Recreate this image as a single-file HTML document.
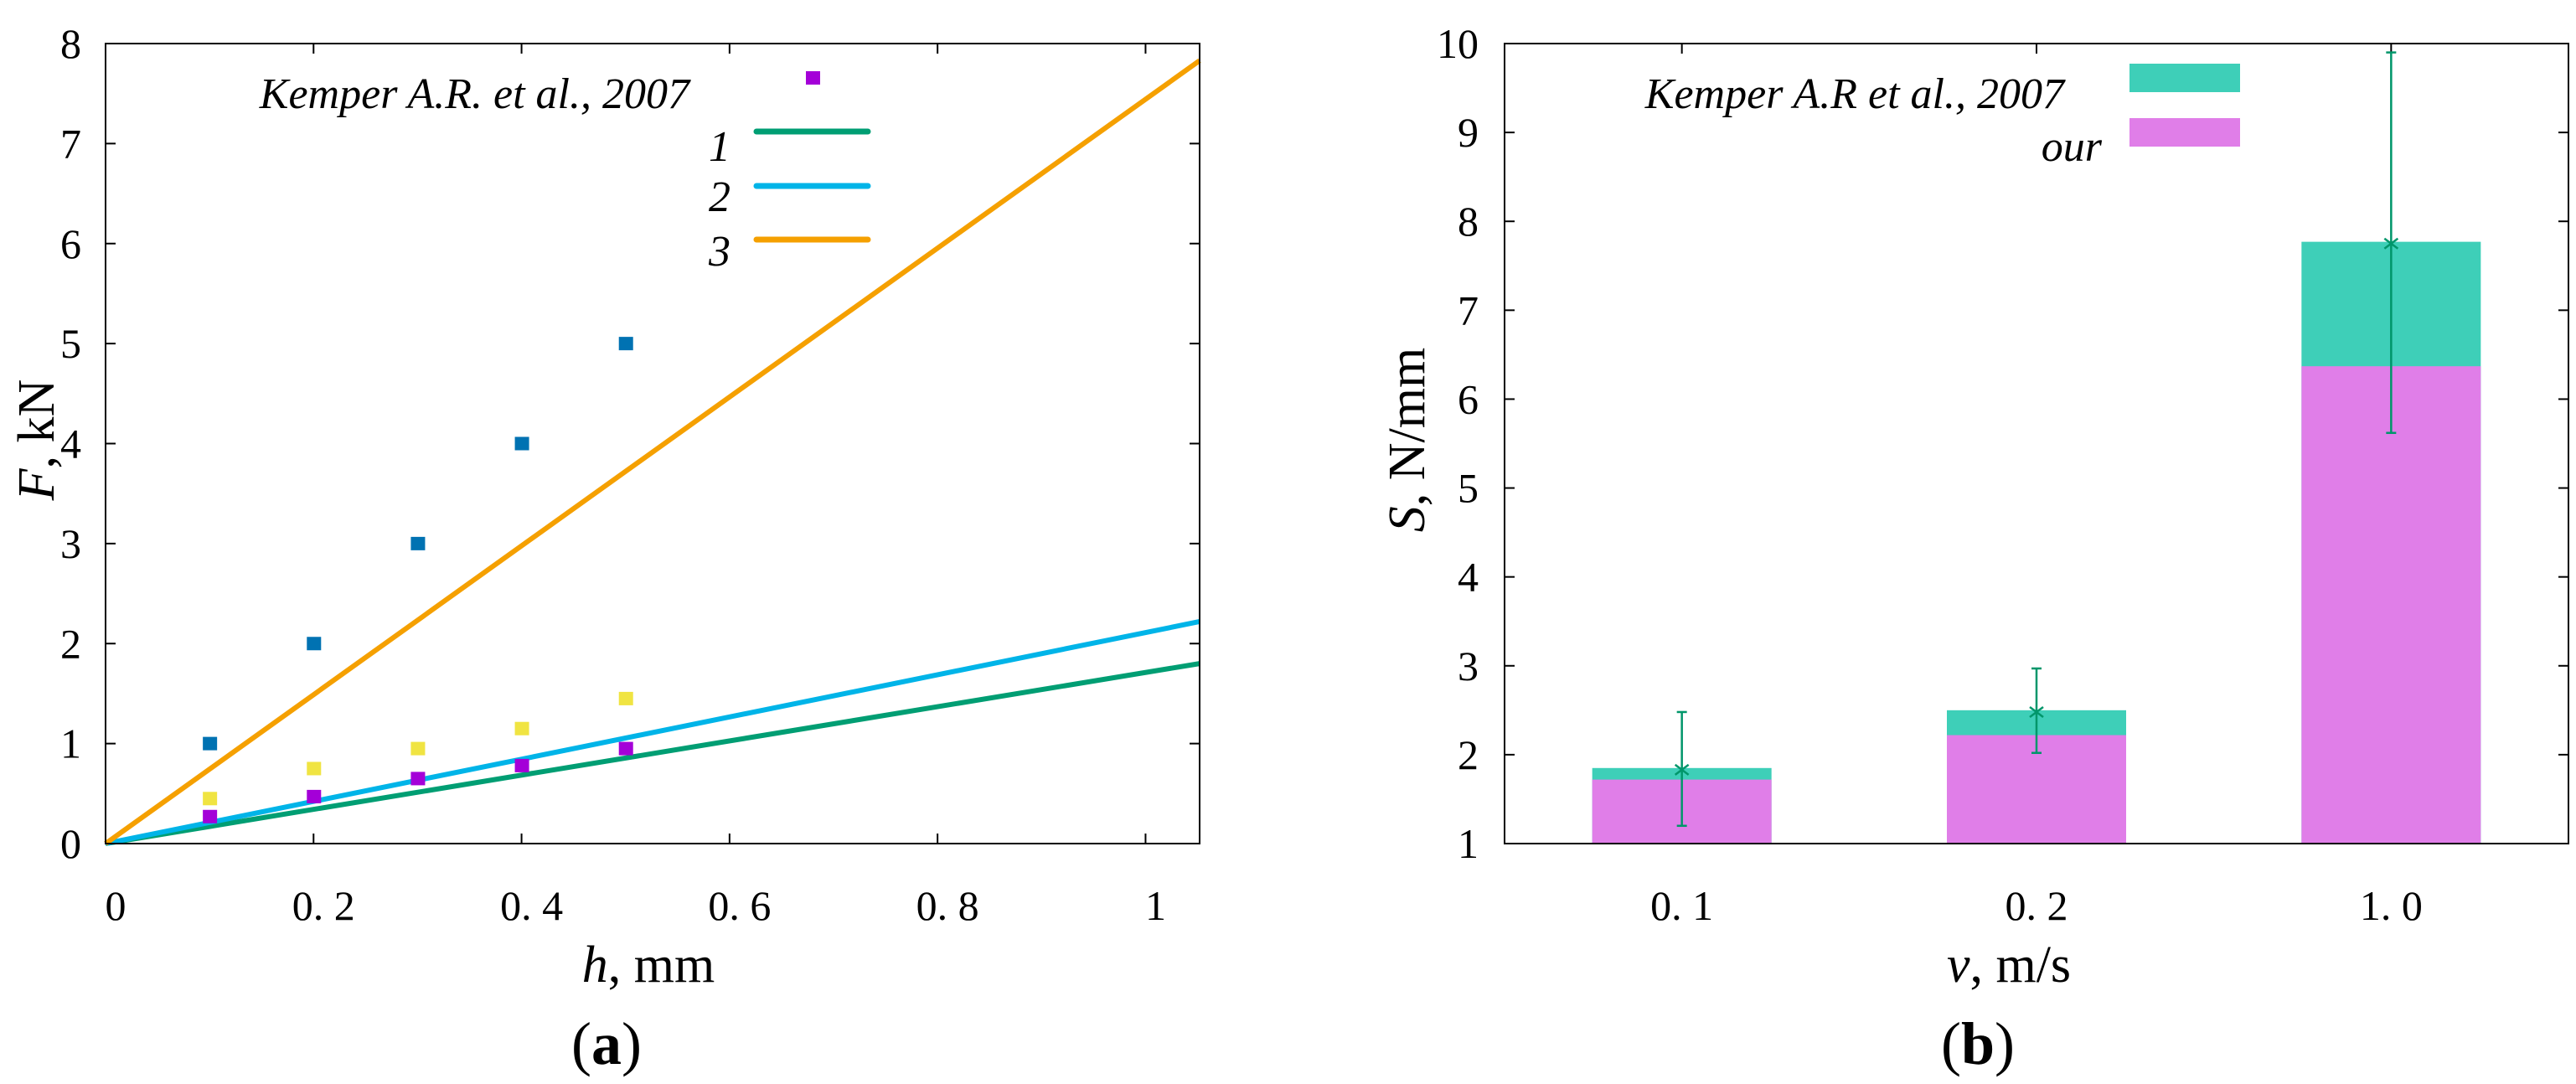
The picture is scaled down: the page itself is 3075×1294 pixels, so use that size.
<!DOCTYPE html>
<html><head><meta charset="utf-8"><style>
html,body{margin:0;padding:0;background:#fff;overflow:hidden}
svg{display:block}
text{font-family:"Liberation Serif",serif;fill:#000}
</style></head><body>
<svg id="fig" width="3075" height="1294" viewBox="0 0 3075 1294" xmlns="http://www.w3.org/2000/svg">
<g id="pa"></g>
<g id="pb"></g>
</svg>
<script>
// ---- Panel (a) data ----
const aXTicks = [0, 0.2, 0.4, 0.6, 0.8, 1];
const aXTickLabels = ["0", "0. 2", "0. 4", "0. 6", "0. 8", "1"];
const aYTicks = [0, 1, 2, 3, 4, 5, 6, 7, 8];
const aPointX = [0.1, 0.2, 0.3, 0.4, 0.5];
const aBlueY = [1.0, 2.0, 3.0, 4.0, 5.0];
const aYellowY = [0.45, 0.75, 0.95, 1.15, 1.45];
const aPurpleY = [0.27, 0.47, 0.65, 0.78, 0.95];
const aLineNames = ["1", "2", "3"];
const aLineEndY = [1.8, 2.22, 7.83];
const aXMax = 1.052;
// ---- Panel (b) data ----
const bCategories = ["0. 1", "0. 2", "1. 0"];
const bKemper = [1.85, 2.5, 7.77];
const bOur = [1.72, 2.22, 6.37];
const bErrMid = [1.83, 2.48, 7.75];
const bErrLow = [1.2, 2.02, 5.62];
const bErrHigh = [2.48, 2.97, 9.9];
const bYTicks = [1, 2, 3, 4, 5, 6, 7, 8, 9, 10];

const NS = "http://www.w3.org/2000/svg";
function mk(parent, tag, attrs, txt) {
  const e = document.createElementNS(NS, tag);
  for (const k in attrs) e.setAttribute(k, attrs[k]);
  if (txt !== undefined) e.textContent = txt;
  parent.appendChild(e);
  return e;
}
const TOP = 52, BOT = 1007, TICKY = 1098, TITLEY = 1172, PANELY = 1270;
const TF = 50, TITF = 62;

// ===== Panel A =====
const pa = document.getElementById('pa');
const aL = 126, aR = 1432, aT = TOP, aB = BOT;
const ax = v => aL + v / aXMax * (aR - aL);
const ay = v => aB - v / 8 * (aB - aT);

aYTicks.forEach(v => {
  const y = ay(v);
  let t = mk(pa, 'line', {x1: aL, y1: y, x2: aL + 12, y2: y, stroke: '#000', 'stroke-width': 2});
  
  
  t = mk(pa, 'line', {x1: aR, y1: y, x2: aR - 12, y2: y, stroke: '#000', 'stroke-width': 2});
  
  
  const l = mk(pa, 'text', {x: 97, y: y + 17, 'text-anchor': 'end', 'font-size': TF}, String(v));
  
  
});
aXTicks.forEach((v, i) => {
  const x = ax(v);
  let t = mk(pa, 'line', {x1: x, y1: aB, x2: x, y2: aB - 12, stroke: '#000', 'stroke-width': 2});
  
  
  t = mk(pa, 'line', {x1: x, y1: aT, x2: x, y2: aT + 12, stroke: '#000', 'stroke-width': 2});
  
  
  const l = mk(pa, 'text', {x: x + 12, y: TICKY, 'text-anchor': 'middle', 'font-size': TF}, aXTickLabels[i]);
  
  
});

const lineColors = ['#009e73', '#00b4e8', '#f5a000'];
aLineEndY.forEach((v, i) => {
  const ln = mk(pa, 'line', {x1: ax(0), y1: ay(0), x2: ax(aXMax), y2: ay(v), stroke: lineColors[i], 'stroke-width': 6});
  
  
});
function pts(arr, color, name) {
  arr.forEach((v, i) => {
    const r = mk(pa, 'rect', {x: ax(aPointX[i]) - 8, y: ay(v) - 8, width: 17, height: 16, fill: color});
    
    
  });
}
pts(aBlueY, '#0072b2', 'point-blue');
pts(aYellowY, '#f0e442', 'point-yellow');
pts(aPurpleY, '#a400d8', 'point-purple');

mk(pa, 'rect', {x: aL, y: aT, width: aR - aL, height: aB - aT, fill: 'none', stroke: '#000', 'stroke-width': 2,  });

// legend a
mk(pa, 'text', {x: 823, y: 129, 'text-anchor': 'end', 'font-size': 52, 'font-style': 'italic',  }, 'Kemper A.R. et al., 2007');
mk(pa, 'rect', {x: 962, y: 85, width: 17, height: 16, fill: '#a400d8',  });
const legY = [157, 222, 286];
const legLabY = [192, 252, 317];
aLineNames.forEach((n, i) => {
  const t = mk(pa, 'text', {x: 872, y: legLabY[i], 'text-anchor': 'end', 'font-size': 52, 'font-style': 'italic'}, n);
  
  
  const l = mk(pa, 'line', {x1: 903, y1: legY[i], x2: 1036, y2: legY[i], stroke: lineColors[i], 'stroke-width': 7, 'stroke-linecap': 'round'});
  
  
});

const xta = mk(pa, 'text', {x: 774, y: TITLEY, 'text-anchor': 'middle', 'font-size': TITF,  });
mk(xta, 'tspan', {'font-style': 'italic'}, 'h');
mk(xta, 'tspan', {}, ', mm');
const yta = mk(pa, 'text', {x: 0, y: 0, 'text-anchor': 'middle', 'font-size': TITF, transform: 'translate(64,525) rotate(-90)',  });
mk(yta, 'tspan', {'font-style': 'italic'}, 'F');
mk(yta, 'tspan', {}, ', kN');
const pla = mk(pa, 'text', {x: 724, y: PANELY, 'text-anchor': 'middle', 'font-size': 72,  });
mk(pla, 'tspan', {}, '(');
mk(pla, 'tspan', {'font-weight': 'bold'}, 'a');
mk(pla, 'tspan', {}, ')');

// ===== Panel B =====
const pb = document.getElementById('pb');
const bL = 1796, bR = 3066, bT = TOP, bB = BOT;
const bx = i => bL + (i + 0.5) / 3 * (bR - bL);
const by = v => bB - (v - 1) / 9 * (bB - bT);
const bw = 214;

bYTicks.forEach(v => {
  const y = by(v);
  let t = mk(pb, 'line', {x1: bL, y1: y, x2: bL + 12, y2: y, stroke: '#000', 'stroke-width': 2});
  
  
  t = mk(pb, 'line', {x1: bR, y1: y, x2: bR - 12, y2: y, stroke: '#000', 'stroke-width': 2});
  
  
  const l = mk(pb, 'text', {x: 1765, y: y + 17, 'text-anchor': 'end', 'font-size': TF}, String(v));
  
  
});
bCategories.forEach((c, i) => {
  const x = bx(i);
  let t = mk(pb, 'line', {x1: x, y1: bT, x2: x, y2: bT + 12, stroke: '#000', 'stroke-width': 2});
  
  
  const l = mk(pb, 'text', {x: x, y: TICKY, 'text-anchor': 'middle', 'font-size': TF}, c);
  
  
  const r1 = mk(pb, 'rect', {x: x - bw / 2, y: by(bKemper[i]), width: bw, height: bB - by(bKemper[i]), fill: '#3ecfb8'});
  
  
  const r2 = mk(pb, 'rect', {x: x - bw / 2, y: by(bOur[i]), width: bw, height: bB - by(bOur[i]), fill: '#e07ee8'});
  
  
  const g = mk(pb, 'g', {stroke: '#00966a', 'stroke-width': 2.5});
  
  
  mk(g, 'line', {x1: x, y1: by(bErrLow[i]), x2: x, y2: by(bErrHigh[i])});
  mk(g, 'line', {x1: x - 6, y1: by(bErrLow[i]), x2: x + 6, y2: by(bErrLow[i])});
  mk(g, 'line', {x1: x - 6, y1: by(bErrHigh[i]), x2: x + 6, y2: by(bErrHigh[i])});
  const m = by(bErrMid[i]);
  mk(g, 'line', {x1: x - 8, y1: m - 6, x2: x + 8, y2: m + 6});
  mk(g, 'line', {x1: x - 8, y1: m + 6, x2: x + 8, y2: m - 6});
});
mk(pb, 'rect', {x: bL, y: bT, width: bR - bL, height: bB - bT, fill: 'none', stroke: '#000', 'stroke-width': 2,  });

mk(pb, 'text', {x: 2464, y: 129, 'text-anchor': 'end', 'font-size': 52, 'font-style': 'italic',  }, 'Kemper A.R et al., 2007');
mk(pb, 'rect', {x: 2542, y: 76, width: 132, height: 34, fill: '#3ecfb8',  });
mk(pb, 'text', {x: 2509, y: 192, 'text-anchor': 'end', 'font-size': 52, 'font-style': 'italic',  }, 'our');
mk(pb, 'rect', {x: 2542, y: 141, width: 132, height: 34, fill: '#e07ee8',  });

const xtb = mk(pb, 'text', {x: 2398, y: TITLEY, 'text-anchor': 'middle', 'font-size': TITF,  });
mk(xtb, 'tspan', {'font-style': 'italic'}, 'v');
mk(xtb, 'tspan', {}, ', m/s');
const ytb = mk(pb, 'text', {x: 0, y: 0, 'text-anchor': 'middle', 'font-size': TITF, transform: 'translate(1700,525) rotate(-90)',  });
mk(ytb, 'tspan', {'font-style': 'italic'}, 'S');
mk(ytb, 'tspan', {}, ', N/mm');
const plb = mk(pb, 'text', {x: 2361, y: PANELY, 'text-anchor': 'middle', 'font-size': 72,  });
mk(plb, 'tspan', {}, '(');
mk(plb, 'tspan', {'font-weight': 'bold'}, 'b');
mk(plb, 'tspan', {}, ')');
</script>
</body></html>
